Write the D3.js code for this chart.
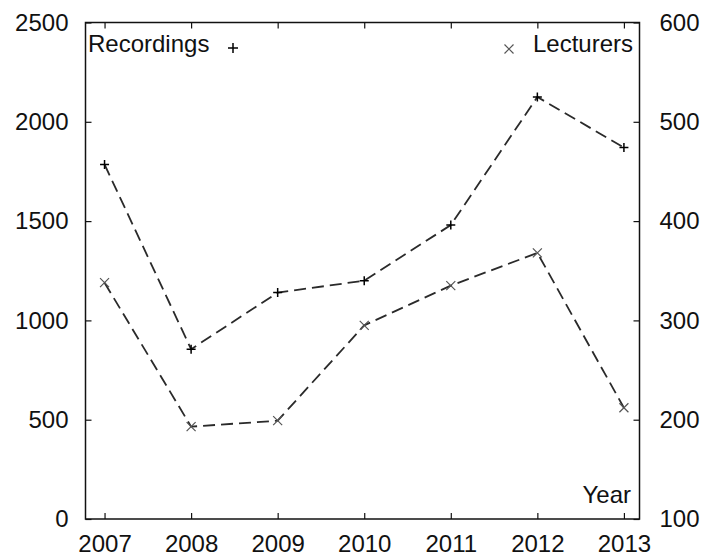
<!DOCTYPE html>
<html><head><meta charset="utf-8">
<script src="https://cdn.jsdelivr.net/npm/d3@7"></script>
<style>
html,body{margin:0;padding:0;background:#fff;}
text{font-family:"Liberation Sans",Arial,sans-serif;font-size:24px;fill:#111;}
</style></head>
<body><svg id="c" width="707" height="558"></svg>
<script>
const years = [2007, 2008, 2009, 2010, 2011, 2012, 2013];
const recordings = [1785, 855, 1140, 1200, 1480, 2125, 1870];
const lecturers = [338, 193, 199, 295, 335, 368, 212];
const leftTicks = [0, 500, 1000, 1500, 2000, 2500];
const rightTicks = [100, 200, 300, 400, 500, 600];

const svg = d3.select("#c");
const L = 85.5, R = 639.5, T = 22.5, B = 519;
const x = d3.scaleLinear().domain([2006.78, 2013.18]).range([L, R]);
const yL = d3.scaleLinear().domain([0, 2500]).range([B, T]);
const yR = d3.scaleLinear().domain([100, 600]).range([B, T]);

function styleAxis(g){
  g.select(".domain").remove();
  g.selectAll(".tick line").attr("stroke","#111").attr("stroke-width",1.2);
}
svg.append("g").attr("transform",`translate(0,${B})`)
  .call(d3.axisBottom(x).tickValues(years).tickFormat(d3.format("d")).tickSize(-6).tickPadding(16))
  .call(styleAxis);
svg.append("g").attr("transform",`translate(0,${T})`)
  .call(d3.axisTop(x).tickValues(years).tickFormat("").tickSize(-6))
  .call(styleAxis);
svg.append("g").attr("transform",`translate(${L},0)`)
  .call(d3.axisLeft(yL).tickValues(leftTicks).tickFormat(d3.format("d")).tickSize(-6).tickPadding(17))
  .call(styleAxis);
svg.append("g").attr("transform",`translate(${R},0)`)
  .call(d3.axisRight(yR).tickValues(rightTicks).tickFormat(d3.format("d")).tickSize(-6).tickPadding(20))
  .call(styleAxis);
svg.selectAll(".tick text").style("font-size","24px").attr("fill","#111")
  .style("font-family","'Liberation Sans',Arial,sans-serif");

svg.append("rect").attr("x",L).attr("y",T).attr("width",R-L).attr("height",B-T)
  .attr("fill","none").attr("stroke","#111").attr("stroke-width",1.5);

const lineR = d3.line().x((d,i)=>x(years[i])).y(d=>yL(d));
const lineLe = d3.line().x((d,i)=>x(years[i])).y(d=>yR(d));
svg.append("path").attr("d",lineR(recordings)).attr("fill","none")
  .attr("stroke","#2a2a2a").attr("stroke-width",1.8).attr("stroke-dasharray","12,6");
svg.append("path").attr("d",lineLe(lecturers)).attr("fill","none")
  .attr("stroke","#2a2a2a").attr("stroke-width",1.8).attr("stroke-dasharray","12,6");

const plus = (g,cx,cy,s,c)=>{
  g.append("path").attr("d",`M${cx-s},${cy}H${cx+s}M${cx},${cy-s}V${cy+s}`)
   .attr("stroke",c).attr("stroke-width",1.5);
};
const cross = (g,cx,cy,s,c)=>{
  g.append("path").attr("d",`M${cx-s},${cy-s}L${cx+s},${cy+s}M${cx-s},${cy+s}L${cx+s},${cy-s}`)
   .attr("stroke",c).attr("stroke-width",1.2);
};
const mk = svg.append("g");
recordings.forEach((v,i)=>plus(mk,x(years[i]),yL(v),4.5,"#000"));
lecturers.forEach((v,i)=>cross(mk,x(years[i]),yR(v),4.5,"#555"));

svg.append("text").attr("x",88).attr("y",52).text("Recordings");
plus(svg,233,48,5,"#000");
svg.append("text").attr("x",633).attr("y",52).attr("text-anchor","end").text("Lecturers");
cross(svg,509,49,4.5,"#555");
svg.append("text").attr("x",631).attr("y",503).attr("text-anchor","end").text("Year");
</script></body></html>
